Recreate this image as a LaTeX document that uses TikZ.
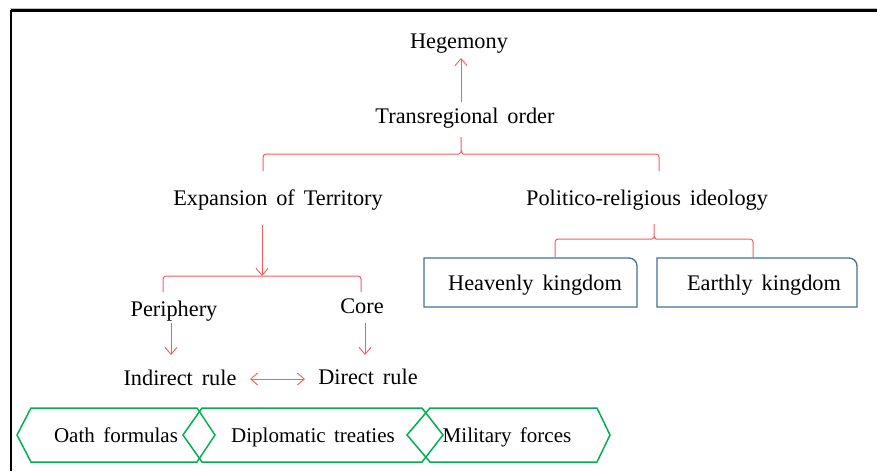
\documentclass[tikz,border=0pt]{standalone}
\usepackage{fontspec}
\setmainfont[WordSpace=1.6]{Liberation Serif}
\usetikzlibrary{arrows.meta}
\definecolor{bred}{RGB}{255,90,90}
\definecolor{hexgreen}{RGB}{0,176,80}
\definecolor{boxblue}{RGB}{65,113,156}
\tikzset{
 lbl/.style={anchor=base, font=\fontsize{22.3}{24}\selectfont, inner sep=0pt},
 hexlbl/.style={anchor=base, font=\fontsize{21}{23}\selectfont, inner sep=0pt},
 redln/.style={draw=bred, line width=1pt},
 arr/.style={redln, -{Straight Barb[length=7pt,width=12pt,line width=0.9pt]}},
 darr/.style={redln, {Straight Barb[length=7pt,width=12pt,line width=0.9pt]}-{Straight Barb[length=7pt,width=12pt,line width=0.9pt]}},
 bracepath/.style={redln, rounded corners=3pt},
 hexshape/.style={draw=hexgreen, line width=1.5pt, line join=miter},
 kbox/.style={draw=boxblue, line width=1.3pt},
}
\begin{document}
\begin{tikzpicture}[x=1pt,y=-1pt]
\useasboundingbox (0,0) rectangle (877,471);
\fill[white] (0,0) rectangle (877,471);
% frame
\draw[black!25, line width=1pt] (10,8.3) -- (877,8.3);
\draw[black, line width=2.4pt] (11,10.5) -- (877,10.5);
\draw[black, line width=2.2pt] (11,9.5) -- (11,471);

% labels
\node[lbl] (heg) at (459,48) {Hegemony};
\node[lbl] (trans) at (465,123) {Transregional order};
\node[lbl] (exp) at (278,205) {Expansion of Territory};
\node[lbl] (pol) at (647,205) {Politico-religious ideology};
\node[lbl] (per) at (174,316) {Periphery};
\node[lbl] (core) at (362,313) {Core};
\node[lbl] (ind) at (180,385) {Indirect rule};
\node[lbl] (dir) at (368,384) {Direct rule};

% arrows
\coordinate (a1s) at (461,102); \coordinate (a1e) at (461,58);
\draw[arr] (a1s) -- (a1e);
\coordinate (a2s) at (262,225); \coordinate (a2e) at (262,276);
\draw[arr] (a2s) -- (a2e);
\coordinate (a3s) at (171,323); \coordinate (a3e) at (171,355);
\draw[arr] (a3s) -- (a3e);
\coordinate (a4s) at (365,323); \coordinate (a4e) at (365,355);
\draw[arr] (a4s) -- (a4e);
\coordinate (d1) at (250,379); \coordinate (d2) at (305,379);
\draw[darr] (d1) -- (d2);

% braces
\draw[bracepath] (263,171) -- (263,154) -- (456,154) .. controls (459,154) and (461,152) .. (461,149) -- (461,137)
  (461,149) .. controls (461,152) and (463,154) .. (466,154) -- (659,154) -- (659,171);
\draw[bracepath] (163,292) -- (163,276) -- (361,276) -- (361,292);
\draw[bracepath] (555,257) -- (555,239) -- (649,239) .. controls (652,239) and (654,237) .. (654,235) -- (654,224)
  (654,235) .. controls (654,237) and (656,239) .. (659,239) -- (753,239) -- (753,257);

% kingdom boxes
\draw[kbox] (424,307) -- (424,258) -- (629,258) .. controls (633.4,258) and (637,261.6) .. (637,266) -- (637,307) -- cycle;
\node[lbl] (heav) at (535,290) {Heavenly kingdom};
\draw[kbox] (657,307) -- (657,258) -- (849,258) .. controls (853.4,258) and (857,261.6) .. (857,266) -- (857,307) -- cycle;
\node[lbl] (earth) at (764,290) {Earthly kingdom};

% hexagons
\draw[hexshape] (17,435) -- (31,408) -- (197,408) -- (215,435) -- (197,462) -- (31,462) -- cycle;
\draw[hexshape] (183,435) -- (202,408) -- (422,408) -- (443,435) -- (422,462) -- (202,462) -- cycle;
\draw[hexshape] (407,435) -- (430,408) -- (597,408) -- (610,435) -- (597,462) -- (430,462) -- cycle;
\node[hexlbl] (oath) at (116,442) {Oath formulas};
\node[hexlbl] (dipl) at (313,442) {Diplomatic treaties};
\node[hexlbl] (mil) at (507,442) {Military forces};
\end{tikzpicture}
\end{document}
